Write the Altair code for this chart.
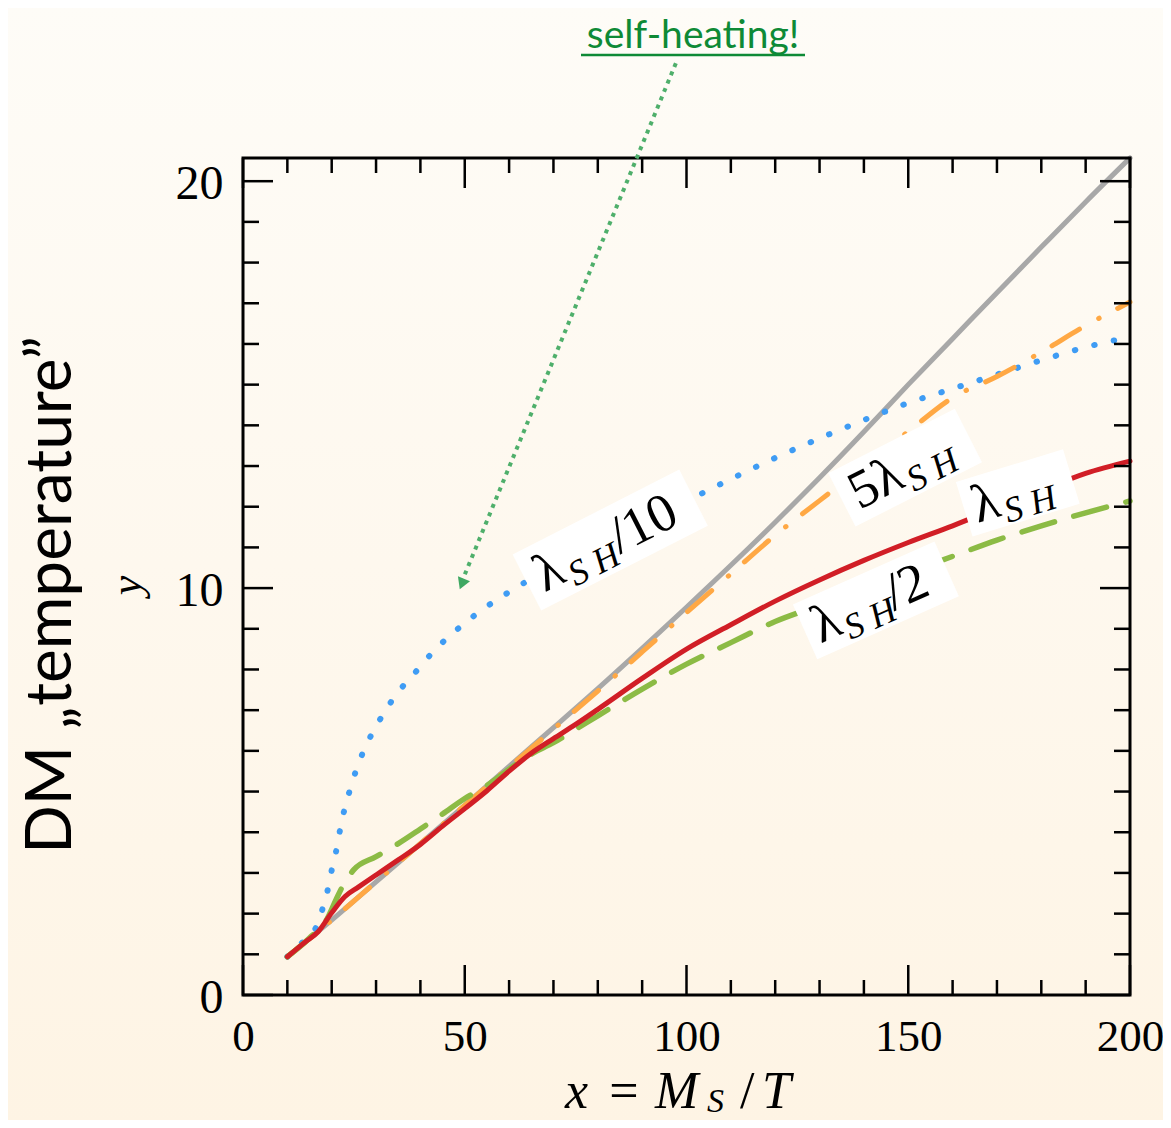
import altair as alt
import pandas as pd

# ---------------- data ----------------
gray_x = [10, 20, 30, 40, 50, 60, 70, 80, 90, 100, 110, 120, 130, 140, 150, 160, 170, 180, 190, 200]
gray_y = [0.94, 1.84, 2.78, 3.72, 4.66, 5.62, 6.57, 7.53, 8.52, 9.53, 10.56, 11.62, 12.71, 13.84, 15.0,
          16.13, 17.26, 18.38, 19.49, 20.57]

orange_x = [10, 20, 30, 40, 50, 60, 70, 80, 90, 100, 110, 120, 130, 140, 150, 160, 170, 180, 190, 200]
orange_y = [0.94, 1.84, 2.78, 3.72, 4.66, 5.6, 6.53, 7.47, 8.43, 9.4, 10.35, 11.3, 12.15, 13.0, 13.85,
            14.68, 15.2, 15.8, 16.45, 17.03]

red_x = [10, 14, 17, 20, 23, 26, 30, 35, 40, 45, 50, 55, 60, 65, 70, 75, 80, 90, 100, 110, 120, 130,
         140, 150, 160, 170, 180, 190, 200]
red_y = [0.94, 1.3, 1.56, 2.02, 2.42, 2.65, 2.95, 3.32, 3.7, 4.15, 4.58, 5.02, 5.5, 5.94, 6.3, 6.65,
         7.02, 7.78, 8.5, 9.1, 9.68, 10.2, 10.68, 11.12, 11.53, 11.97, 12.4, 12.82, 13.12]

green_x = [10, 15, 19, 21, 23, 25, 30, 35, 40, 45, 50, 55, 60, 65, 70, 75, 80, 90, 100, 110, 120, 130,
           140, 150, 160, 170, 180, 190, 200]
green_y = [0.94, 1.4, 1.88, 2.35, 2.78, 3.08, 3.4, 3.72, 4.08, 4.45, 4.83, 5.15, 5.55, 5.92, 6.2, 6.53,
           6.86, 7.52, 8.13, 8.66, 9.18, 9.58, 9.98, 10.38, 10.78, 11.18, 11.53, 11.85, 12.14]

blue_x = [10, 13, 16.5, 18, 19.2, 20.1, 21.2, 22, 24, 27, 30, 32, 35, 38, 43, 49, 55, 62.5, 70, 80, 90,
          103, 110, 120, 130, 140, 150, 160, 170, 180, 190, 200]
blue_y = [0.94, 1.25, 1.67, 2.14, 2.63, 3.12, 3.64, 4.13, 5.0, 5.95, 6.6, 6.97, 7.45, 7.82, 8.45, 9.05,
          9.55, 10.07, 10.55, 11.1, 11.6, 12.3, 12.68, 13.2, 13.68, 14.13, 14.55, 14.9, 15.25, 15.6,
          15.92, 16.17]

x_major = [0, 50, 100, 150, 200]
x_minor = [10, 20, 30, 40, 60, 70, 80, 90, 110, 120, 130, 140, 160, 170, 180, 190]
y_major = [0, 10, 20]
y_minor = [1, 2, 3, 4, 5, 6, 7, 8, 9, 11, 12, 13, 14, 15, 16, 17, 18, 19]

# curve labels
label_main = ["λ", "5λ", "λ", "λ"]
label_sub = ["S H", "S H", "S H", "S H"]
label_tail = ["/10", "", "", "/2"]
label_x = [82.8, 149.3, 174.7, 142.7]
label_y = [11.18, 12.96, 12.34, 9.7]

# annotation arrow (data coordinates)
arrow_from = (97.6, 22.9)
arrow_to = (48.9, 9.9)

W, H = 887, 837
SERIF = "Liberation Serif"
SANS = "Lato"

xscale = alt.Scale(domain=[0, 200], nice=False, zero=False)
yscale = alt.Scale(domain=[0, 20.57], nice=False, zero=False)

X = alt.X("x:Q", scale=xscale, title=None,
          axis=alt.Axis(values=x_major, ticks=False, domain=False, grid=False, labelFont=SERIF,
                        labelFontSize=45, labelPadding=19, labelFlush=False, labelColor="black",
                        format="d", zindex=1))
Y = alt.Y("y:Q", scale=yscale,
          axis=alt.Axis(values=y_major, ticks=False, domain=False, grid=False, labelFont=SERIF,
                        labelFontSize=48, labelPadding=20, labelFlush=False, labelColor="black",
                        labelBaseline="middle", labelOffset=3, format="d", zindex=1,
                        title="y", titleFont=SERIF, titleFontStyle="italic", titleFontWeight="normal",
                        titleFontSize=44, titleColor="black", titleX=-116, titleY=427,
                        titleAlign="center", titleBaseline="middle", titleAngle=270))

layers = []

# background gradient
bg = alt.Chart(pd.DataFrame({"a": [0]})).mark_rect(
    fill=alt.Gradient(gradient="linear",
                      stops=[alt.GradientStop(color="#FEFCF7", offset=0),
                             alt.GradientStop(color="#FEF8EE", offset=0.5),
                             alt.GradientStop(color="#FEF4E4", offset=1)],
                      x1=0, x2=0, y1=0, y2=1)
).encode(x=alt.value(-240), x2=alt.value(W + 40), y=alt.value(-155), y2=alt.value(H + 130))
layers.append(bg)


def line(xs, ys, color, width=5, dash=None):
    df = pd.DataFrame({"x": xs, "y": ys})
    kw = dict(color=color, strokeWidth=width, interpolate="monotone", strokeCap="round",
              strokeJoin="round")
    if dash:
        kw["strokeDash"] = dash
    return alt.Chart(df).mark_line(**kw).encode(x=X, y=Y)


layers.append(line(gray_x, gray_y, "#A8A8A8", 5))
layers.append(line(blue_x, blue_y, "#3F9CF4", 6, [0.5, 19.5]))
layers.append(line(orange_x, orange_y, "#FFA844", 5, [32, 22, 0.5, 21]))
layers.append(line(green_x, green_y, "#8CBB45", 5.5, [34, 20]))
layers.append(line(red_x, red_y, "#D11E26", 5))

# curve labels with white boxes
boxes = [(187, 63, 333), (142, 60, 333), (112, 57, 343), (155, 60, 336)]
parts_dx = [(-82, -52, 2), (-60, -3, 0), (-47, -18, 0), (-68, -39, 12)]
for i in range(4):
    bw, bh, ang = boxes[i]
    r = bh / bw
    path = f"M-1,-{r:.4f}L1,-{r:.4f}L1,{r:.4f}L-1,{r:.4f}Z"
    df = pd.DataFrame({"x": [label_x[i]], "y": [label_y[i]]})
    base = alt.Chart(df)
    layers.append(base.mark_point(shape=path, size=bw * bw, angle=ang, filled=True, fill="white",
                                  opacity=1, strokeWidth=0).encode(x=X, y=Y))
    d0, d1, d2 = parts_dx[i]
    layers.append(base.mark_text(text=label_main[i], angle=ang, align="left", baseline="alphabetic",
                                 dx=d0, dy=17, font=SERIF, fontSize=54, color="black")
                  .encode(x=X, y=Y))
    layers.append(base.mark_text(text=label_sub[i], angle=ang, align="left", baseline="alphabetic",
                                 dx=d1, dy=26, font=SERIF, fontSize=36, fontStyle="italic",
                                 color="black").encode(x=X, y=Y))
    if label_tail[i]:
        layers.append(base.mark_text(text=label_tail[i], angle=ang, align="left",
                                     baseline="alphabetic", dx=d2, dy=17, font=SERIF, fontSize=54,
                                     color="black").encode(x=X, y=Y))

# ticks (inward, on all four sides)
xmaj = alt.Chart(pd.DataFrame({"x": x_major}))
xmin = alt.Chart(pd.DataFrame({"x": x_minor}))
ymaj = alt.Chart(pd.DataFrame({"y": y_major}))
ymin = alt.Chart(pd.DataFrame({"y": y_minor}))
tk = dict(color="black", strokeWidth=2.5)
layers += [
    xmaj.mark_rule(**tk).encode(x=X, y=alt.value(H), y2=alt.value(H - 30)),
    xmaj.mark_rule(**tk).encode(x=X, y=alt.value(0), y2=alt.value(30)),
    xmin.mark_rule(**tk).encode(x=X, y=alt.value(H), y2=alt.value(H - 15)),
    xmin.mark_rule(**tk).encode(x=X, y=alt.value(0), y2=alt.value(15)),
    ymaj.mark_rule(**tk).encode(y=Y, x=alt.value(0), x2=alt.value(30)),
    ymaj.mark_rule(**tk).encode(y=Y, x=alt.value(W), x2=alt.value(W - 30)),
    ymin.mark_rule(**tk).encode(y=Y, x=alt.value(0), x2=alt.value(16)),
    ymin.mark_rule(**tk).encode(y=Y, x=alt.value(W), x2=alt.value(W - 16)),
]

# frame
layers.append(alt.Chart(pd.DataFrame({"a": [0]})).mark_rect(
    fillOpacity=0, stroke="black", strokeWidth=3
).encode(x=alt.value(0), x2=alt.value(W), y=alt.value(0), y2=alt.value(H)))

# annotation: arrow + "self-heating!"
arr = pd.DataFrame({"x": [arrow_from[0]], "y": [arrow_from[1]],
                    "x2": [arrow_to[0] + 0.6], "y2": [arrow_to[1] + 0.3]})
layers.append(alt.Chart(arr).mark_rule(color="#4FAF6B", strokeWidth=4, strokeDash=[4, 5])
              .encode(x=X, y=Y, x2="x2:Q", y2="y2:Q"))
head = pd.DataFrame({"x": [arrow_to[0] + 0.45], "y": [arrow_to[1] + 0.2]})
layers.append(alt.Chart(head).mark_point(shape="triangle-up", size=170, angle=202, filled=True,
                                         color="#3FA862", opacity=1).encode(x=X, y=Y))

ann = alt.Chart(pd.DataFrame({"a": [0]}))
layers.append(ann.mark_text(text="self-heating!", font=SANS, fontSize=39, color="#0E8A36",
                            align="center", baseline="alphabetic")
              .encode(x=alt.value(450), y=alt.value(-110)))
layers.append(ann.mark_rule(color="#0E8A36", strokeWidth=2.5)
              .encode(x=alt.value(338), x2=alt.value(562), y=alt.value(-103)))

# x-axis title  x = M_S / T
xt = dict(font=SERIF, fontStyle="italic", color="black", baseline="alphabetic")
layers += [
    ann.mark_text(text="x", fontSize=52, align="left", **xt).encode(x=alt.value(322), y=alt.value(950)),
    ann.mark_text(text="=", fontSize=52, align="center", font=SERIF, color="black",
                  baseline="alphabetic").encode(x=alt.value(381), y=alt.value(950)),
    ann.mark_text(text="M", fontSize=52, align="left", **xt).encode(x=alt.value(412), y=alt.value(950)),
    ann.mark_text(text="S", fontSize=34, align="left", **xt).encode(x=alt.value(464), y=alt.value(954)),
    ann.mark_text(text="/", fontSize=52, align="left", font=SERIF, color="black",
                  baseline="alphabetic").encode(x=alt.value(497), y=alt.value(950)),
    ann.mark_text(text="T", fontSize=52, align="left", **xt).encode(x=alt.value(519), y=alt.value(950)),
]

# big outer label
layers.append(ann.mark_text(text="DM „temperature”", font=SANS, fontSize=64, color="black",
                            angle=270, align="center", baseline="middle")
              .encode(x=alt.value(-191), y=alt.value(437)))

chart = alt.layer(*layers).properties(
    width=W, height=H,
    autosize=alt.AutoSizeParams(type="none"),
    padding={"left": 235, "top": 150, "right": 33, "bottom": 125},
).configure(background="#FEF8EE").configure_view(stroke=None)

chart.save("out.html", embed_options={"renderer": "svg", "actions": False})
